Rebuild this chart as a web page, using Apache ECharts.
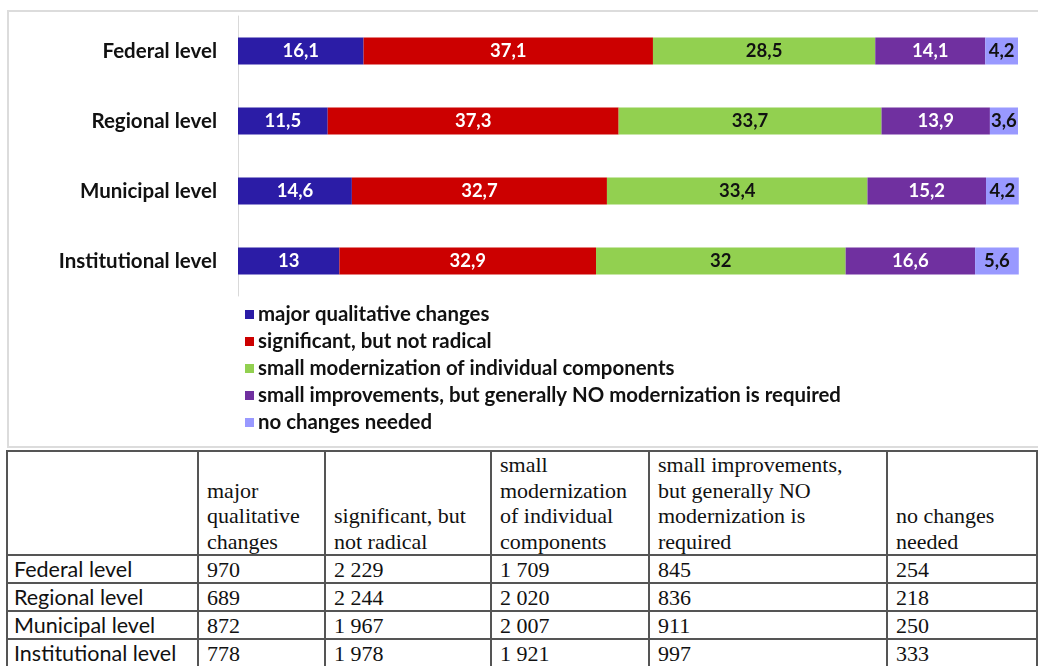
<!DOCTYPE html>
<html>
<head>
<meta charset="utf-8">
<script src="https://cdn.jsdelivr.net/npm/echarts@6/dist/echarts.min.js"></script>
<style>
  html, body { margin: 0; padding: 0; background: #fff; width: 1038px; height: 666px; overflow: hidden; position: relative; }
  #frame { position: absolute; left: 7px; top: 10px; width: 1040px; height: 434px; border: 2px solid #dcdcdc; box-sizing: content-box; }
  #chart { position: absolute; left: 0; top: 0; width: 1038px; height: 446px; }
  #tbl { position: absolute; left: 6px; top: 450px; border-collapse: collapse; table-layout: fixed; width: 1030px; }
  #tbl td { border: 2px solid #555; font-family: "Liberation Serif", "Times New Roman", serif; font-size: 22px; color: #111; padding: 0 10px 0 8px; line-height: 25.5px; vertical-align: bottom; white-space: normal; overflow: hidden; }
  #tbl tr.hdr td { height: 101px; padding-bottom: 0px; }
  #tbl tr.row td { height: 26px; padding-top: 0; padding-bottom: 0; white-space: nowrap; line-height: 25px; }
  #tbl td.lab { font-family: "Lato", "Open Sans", sans-serif; font-size: 21.5px; padding-left: 6px; }
</style>
</head>
<body>
<div id="frame"></div>
<div id="chart"></div>
<table id="tbl"></table>
<script>
const categories = ["Federal level", "Regional level", "Municipal level", "Institutional level"];
const seriesNames = [
  "major qualitative changes",
  "significant, but not radical",
  "small modernization of individual components",
  "small improvements, but generally NO modernization is required",
  "no changes needed"
];
const majorPct = [16.1, 11.5, 14.6, 13];
const significantPct = [37.1, 37.3, 32.7, 32.9];
const smallModPct = [28.5, 33.7, 33.4, 32];
const smallImpPct = [14.1, 13.9, 15.2, 16.6];
const noChangePct = [4.2, 3.6, 4.2, 5.6];

const tableHeaders = ["major qualitative changes", "significant, but not radical", "small modernization of individual components", "small improvements, but generally NO modernization is required", "no changes needed"];
const majorCount = [970, 689, 872, 778];
const significantCount = [2229, 2244, 1967, 1978];
const smallModCount = [1709, 2020, 2007, 1921];
const smallImpCount = [845, 836, 911, 997];
const noChangeCount = [254, 218, 250, 333];

const colors = ["#2b1ca6", "#cc0000", "#92d050", "#7030a0", "#9999ff"];
const labelColors = ["#ffffff", "#ffffff", "#111111", "#ffffff", "#111111"];
const pctData = [majorPct, significantPct, smallModPct, smallImpPct, noChangePct];

const chart = echarts.init(document.getElementById('chart'), null, { renderer: 'canvas' });
const series = seriesNames.map((name, i) => ({
  name: name,
  type: 'bar',
  stack: 'total',
  barWidth: 27,
  clip: false,
  data: pctData[i],
  itemStyle: { color: colors[i] },
  label: {
    show: true,
    position: 'inside',
    color: labelColors[i],
    fontFamily: 'Lato',
    fontWeight: 'bold',
    fontSize: 18.5,
    formatter: p => String(p.value).replace('.', ',')
  }
}));

chart.setOption({
  animation: false,
  grid: { left: 238, right: 20, top: 16, height: 280, containLabel: false },
  xAxis: { type: 'value', min: 0, max: 100, show: false },
  yAxis: {
    type: 'category',
    data: categories,
    inverse: true,
    axisLine: { show: true, lineStyle: { color: '#d9d9d9', width: 1 } },
    axisTick: { show: false },
    axisLabel: { color: '#111', fontFamily: 'Lato', fontWeight: 'bold', fontSize: 20.5, margin: 21 }
  },
  legend: {
    orient: 'vertical',
    left: 245,
    top: 304,
    padding: 0,
    itemWidth: 9,
    itemHeight: 9,
    itemGap: 6,
    icon: 'rect',
    textStyle: { color: '#111', fontFamily: 'Lato', fontWeight: 'bold', fontSize: 20.4, lineHeight: 21, padding: [0, 0, 0, -1] },
    data: seriesNames
  },
  series: series
});

function fmt(n) {
  return String(n).replace(/\B(?=(\d{3})+(?!\d))/g, '\u00a0');
}
const counts = [majorCount, significantCount, smallModCount, smallImpCount, noChangeCount];
const colWidths = [191, 127, 166, 158, 238, 150];
const tbl = document.getElementById('tbl');
const cg = document.createElement('colgroup');
colWidths.forEach(w => { const c = document.createElement('col'); c.style.width = w + 'px'; cg.appendChild(c); });
tbl.appendChild(cg);
const hr = document.createElement('tr'); hr.className = 'hdr';
hr.appendChild(document.createElement('td'));
tableHeaders.forEach(h => { const td = document.createElement('td'); td.textContent = h; hr.appendChild(td); });
tbl.appendChild(hr);
categories.forEach((cat, r) => {
  const tr = document.createElement('tr'); tr.className = 'row';
  const l = document.createElement('td'); l.className = 'lab'; l.textContent = cat; tr.appendChild(l);
  counts.forEach(arr => { const td = document.createElement('td'); td.textContent = fmt(arr[r]); tr.appendChild(td); });
  tbl.appendChild(tr);
});
</script>
</body>
</html>
